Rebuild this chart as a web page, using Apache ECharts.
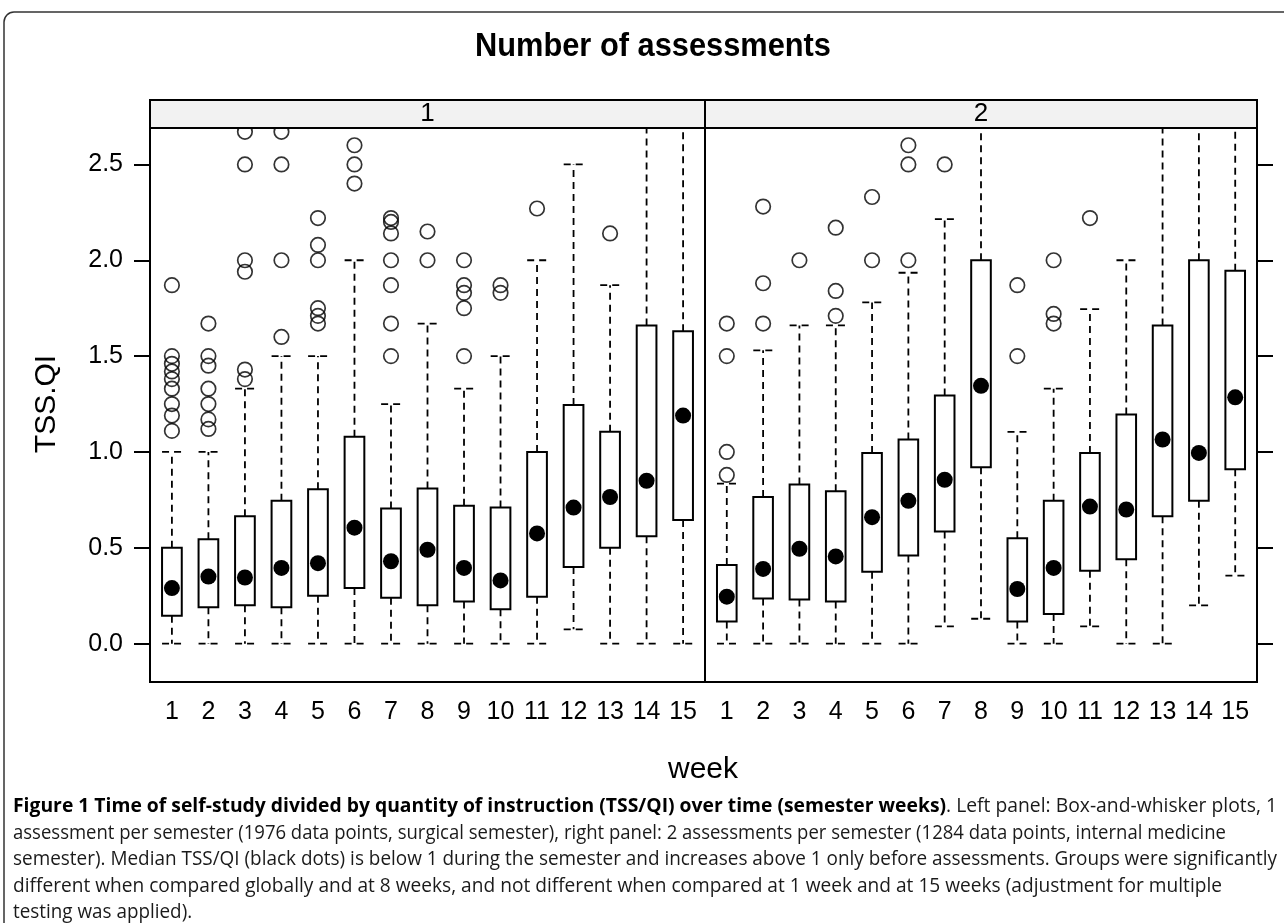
<!DOCTYPE html>
<html><head><meta charset="utf-8">
<script src="https://cdn.jsdelivr.net/npm/echarts@6/dist/echarts.min.js"></script>
<style>html,body{margin:0;padding:0;background:#fff}#c{width:1284px;height:923px}</style>
</head><body><div id="c"></div>
<script>
// ---------- data ----------
const weeks = [1,2,3,4,5,6,7,8,9,10,11,12,13,14,15];
const yTicks = [0, 0.5, 1, 1.5, 2, 2.5];
const panelNames = ['1', '2'];

// Panel 1 (1 assessment per semester)
const p1Low    = [0, 0, 0, 0, 0, 0, 0, 0, 0, 0, 0, 0.075, 0, 0, 0];
const p1Q1     = [0.145, 0.19, 0.2, 0.19, 0.25, 0.29, 0.24, 0.2, 0.22, 0.18, 0.245, 0.4, 0.5, 0.56, 0.645];
const p1Median = [0.29, 0.35, 0.345, 0.395, 0.42, 0.605, 0.43, 0.49, 0.395, 0.33, 0.575, 0.71, 0.765, 0.85, 1.19];
const p1Q3     = [0.5, 0.545, 0.665, 0.745, 0.805, 1.08, 0.705, 0.81, 0.72, 0.71, 1.0, 1.245, 1.105, 1.66, 1.63];
const p1High   = [1.0, 1.0, 1.33, 1.5, 1.5, 2.0, 1.25, 1.67, 1.33, 1.5, 2.0, 2.5, 1.87, 3.0, 3.0];
const p1Outliers = [
  [1.11, 1.19, 1.25, 1.33, 1.38, 1.42, 1.46, 1.5, 1.87],
  [1.12, 1.17, 1.25, 1.33, 1.45, 1.5, 1.67],
  [1.38, 1.43, 1.94, 2.0, 2.5, 2.67],
  [1.6, 2.0, 2.5, 2.67],
  [1.67, 1.71, 1.75, 2.0, 2.08, 2.22],
  [2.4, 2.5, 2.6],
  [1.5, 1.67, 1.87, 2.0, 2.14, 2.2, 2.22],
  [2.0, 2.15],
  [1.5, 1.75, 1.83, 1.87, 2.0],
  [1.83, 1.87],
  [2.27],
  [],
  [2.14],
  [],
  []
];

// Panel 2 (2 assessments per semester)
const p2Low    = [0, 0, 0, 0, 0, 0, 0.09, 0.13, 0, 0, 0.09, 0, 0, 0.2, 0.355];
const p2Q1     = [0.115, 0.235, 0.23, 0.22, 0.375, 0.46, 0.585, 0.92, 0.115, 0.155, 0.38, 0.44, 0.665, 0.745, 0.91];
const p2Median = [0.245, 0.39, 0.495, 0.455, 0.66, 0.745, 0.855, 1.345, 0.285, 0.395, 0.715, 0.7, 1.065, 0.995, 1.285];
const p2Q3     = [0.41, 0.765, 0.83, 0.795, 0.995, 1.065, 1.295, 2.0, 0.55, 0.745, 0.995, 1.195, 1.66, 2.0, 1.945];
const p2High   = [0.835, 1.53, 1.66, 1.66, 1.78, 1.935, 2.215, 3.0, 1.105, 1.33, 1.745, 2.0, 3.0, 3.0, 3.0];
const p2Outliers = [
  [0.88, 1.0, 1.5, 1.67],
  [1.67, 1.88, 2.28],
  [2.0],
  [1.71, 1.84, 2.17],
  [2.0, 2.33],
  [2.0, 2.5, 2.6],
  [2.5],
  [],
  [1.5, 1.87],
  [1.67, 1.72, 2.0],
  [2.22],
  [],
  [],
  [],
  []
];

const captionLines = [
  ['Figure 1 Time of self-study divided by quantity of instruction (TSS/QI) over time (semester weeks)', '. Left panel: Box-and-whisker plots, 1'],
  ['', 'assessment per semester (1976 data points, surgical semester), right panel: 2 assessments per semester (1284 data points, internal medicine'],
  ['', 'semester). Median TSS/QI (black dots) is below 1 during the semester and increases above 1 only before assessments. Groups were significantly'],
  ['', 'different when compared globally and at 8 weeks, and not different when compared at 1 week and at 15 weeks (adjustment for multiple'],
  ['', 'testing was applied).']
];

// ---------- build ----------
const FONT = "'Liberation Sans', Arial, Helvetica, sans-serif";
const CAPFONT = "'Open Sans', 'Noto Sans', sans-serif";

function boxData(low, q1, med, q3, high) {
  return weeks.map((w, i) => [w, low[i], q1[i], med[i], q3[i], high[i]]);
}
function outlierData(out) {
  const d = [];
  out.forEach((arr, i) => arr.forEach(v => d.push([weeks[i], v])));
  return d;
}

function renderBox(params, api) {
  const x = api.value(0);
  const lo = api.coord([x, api.value(1)]);
  const q1 = api.coord([x, api.value(2)]);
  const med = api.coord([x, api.value(3)]);
  const q3 = api.coord([x, api.value(4)]);
  const hi = api.coord([x, api.value(5)]);
  const bw = api.size([0.54, 0])[0];
  const half = bw / 2;
  const cx = q1[0];
  const dash = { stroke: '#000', lineWidth: 1.8, lineDash: [7, 5], fill: null };
  return {
    type: 'group',
    children: [
      { type: 'line', shape: { x1: cx, y1: q3[1], x2: cx, y2: hi[1] }, style: dash },
      { type: 'line', shape: { x1: cx, y1: q1[1], x2: cx, y2: lo[1] }, style: dash },
      { type: 'line', shape: { x1: cx - half, y1: hi[1], x2: cx + half, y2: hi[1] }, style: dash },
      { type: 'line', shape: { x1: cx - half, y1: lo[1], x2: cx + half, y2: lo[1] }, style: dash },
      { type: 'rect', shape: { x: cx - half, y: q3[1], width: bw, height: q1[1] - q3[1] },
        style: { fill: '#fff', stroke: '#000', lineWidth: 2 } },
      { type: 'circle', shape: { cx: cx, cy: med[1], r: 8 }, style: { fill: '#000' } }
    ]
  };
}

const grids = [
  { left: 150, top: 128, width: 555, height: 554 },
  { left: 705, top: 128, width: 552, height: 554 }
].map(g => Object.assign(g, { show: true, borderColor: '#000', borderWidth: 2, backgroundColor: '#fff' }));

const xAxes = [0, 1].map(i => ({
  type: 'value', gridIndex: i, min: 0.4, max: 15.6,
  axisLine: { show: false }, splitLine: { show: false },
  axisTick: { show: false, customValues: weeks },
  axisLabel: { customValues: weeks, formatter: v => String(Math.round(v)), fontFamily: FONT, fontSize: 25, color: '#000', margin: 18 }
}));

const yAxes = [0, 1].map(i => ({
  type: 'value', gridIndex: i, min: -0.2, max: 2.69,
  position: i === 0 ? 'left' : 'right',
  axisLine: { show: false }, splitLine: { show: false },
  axisTick: { show: true, inside: false, length: 16, customValues: yTicks, lineStyle: { color: '#000', width: 2 } },
  axisLabel: { show: i === 0, customValues: yTicks, formatter: v => v.toFixed(1), fontFamily: FONT, fontSize: 25, color: '#000', margin: 27 }
}));

const series = [];
[[p1Low, p1Q1, p1Median, p1Q3, p1High, p1Outliers], [p2Low, p2Q1, p2Median, p2Q3, p2High, p2Outliers]].forEach((p, i) => {
  series.push({
    type: 'custom', xAxisIndex: i, yAxisIndex: i, clip: true, silent: true,
    renderItem: renderBox, data: boxData(p[0], p[1], p[2], p[3], p[4]), z: 2
  });
  series.push({
    type: 'scatter', xAxisIndex: i, yAxisIndex: i, silent: true, symbol: 'circle', symbolSize: 14.5,
    itemStyle: { color: 'rgba(0,0,0,0)', borderColor: '#000', borderWidth: 1.7 },
    data: outlierData(p[5]), z: 3
  });
});

// caption measuring for horizontal fit
const cv = document.createElement('canvas').getContext('2d');
function w(txt, bold, size) { cv.font = (bold ? 'bold ' : '') + size + 'px ' + CAPFONT; return cv.measureText(txt).width; }
const CAP_SIZE = 19.5;
const CAP_X = 13;
const capRight = [1277, 1226, 1277, 1222];
const capScales = captionLines.slice(0, 4).map((ln, i) =>
  (capRight[i] - CAP_X) / (w(ln[0], true, CAP_SIZE) + w(ln[1], false, CAP_SIZE)));
capScales.push((capScales[1] + capScales[2] + capScales[3]) / 3);
const capY = [806, 833, 859, 886, 912];

const titleW = (function () { cv.font = 'bold 34px ' + FONT; return cv.measureText('Number of assessments').width; })();

const graphics = [
  { type: 'rect', shape: { x: 4, y: 12, width: 1320, height: 960, r: 10 }, style: { fill: null, stroke: '#333', lineWidth: 1.5 }, z: 100 },
  { type: 'text', x: 653, y: 47, scaleX: 356 / titleW, originX: 0, originY: 0,
    style: { text: 'Number of assessments', font: 'bold 34px ' + FONT, fill: '#000', align: 'center', verticalAlign: 'middle' } },
  { type: 'rect', shape: { x: 150, y: 100, width: 1107, height: 28 }, style: { fill: '#f2f2f2', stroke: '#000', lineWidth: 2 }, z: 50 },
  { type: 'line', shape: { x1: 705, y1: 100, x2: 705, y2: 128 }, style: { stroke: '#000', lineWidth: 2 }, z: 51 },
  { type: 'text', x: 427.5, y: 114, style: { text: panelNames[0], font: '26px ' + FONT, fill: '#000', align: 'center', verticalAlign: 'middle' }, z: 52 },
  { type: 'text', x: 981, y: 114, style: { text: panelNames[1], font: '26px ' + FONT, fill: '#000', align: 'center', verticalAlign: 'middle' }, z: 52 },
  { type: 'text', x: 47, y: 404, rotation: Math.PI / 2, style: { text: 'TSS.QI', font: '30px ' + FONT, fill: '#000', align: 'center', verticalAlign: 'middle' } },
  { type: 'text', x: 703, y: 770, style: { text: 'week', font: '30px ' + FONT, fill: '#000', align: 'center', verticalAlign: 'middle' } }
];
captionLines.forEach((ln, i) => {
  const txt = (ln[0] ? '{b|' + ln[0] + '}' : '') + '{r|' + ln[1] + '}';
  graphics.push({
    type: 'text', x: CAP_X, y: capY[i], scaleX: capScales[i], originX: 0, originY: 0,
    style: {
      text: txt, verticalAlign: 'middle', align: 'left',
      rich: {
        b: { fontFamily: CAPFONT, fontWeight: 'bold', fontSize: CAP_SIZE, fill: '#000', color: '#000' },
        r: { fontFamily: CAPFONT, fontWeight: 'normal', fontSize: CAP_SIZE, fill: '#1a1a1a', color: '#1a1a1a' }
      }
    }
  });
});

const chart = echarts.init(document.getElementById('c'), null, { renderer: 'canvas' });
chart.setOption({
  animation: false,
  backgroundColor: '#fff',
  grid: grids,
  xAxis: xAxes,
  yAxis: yAxes,
  series: series,
  graphic: graphics
});
</script>
</body></html>
